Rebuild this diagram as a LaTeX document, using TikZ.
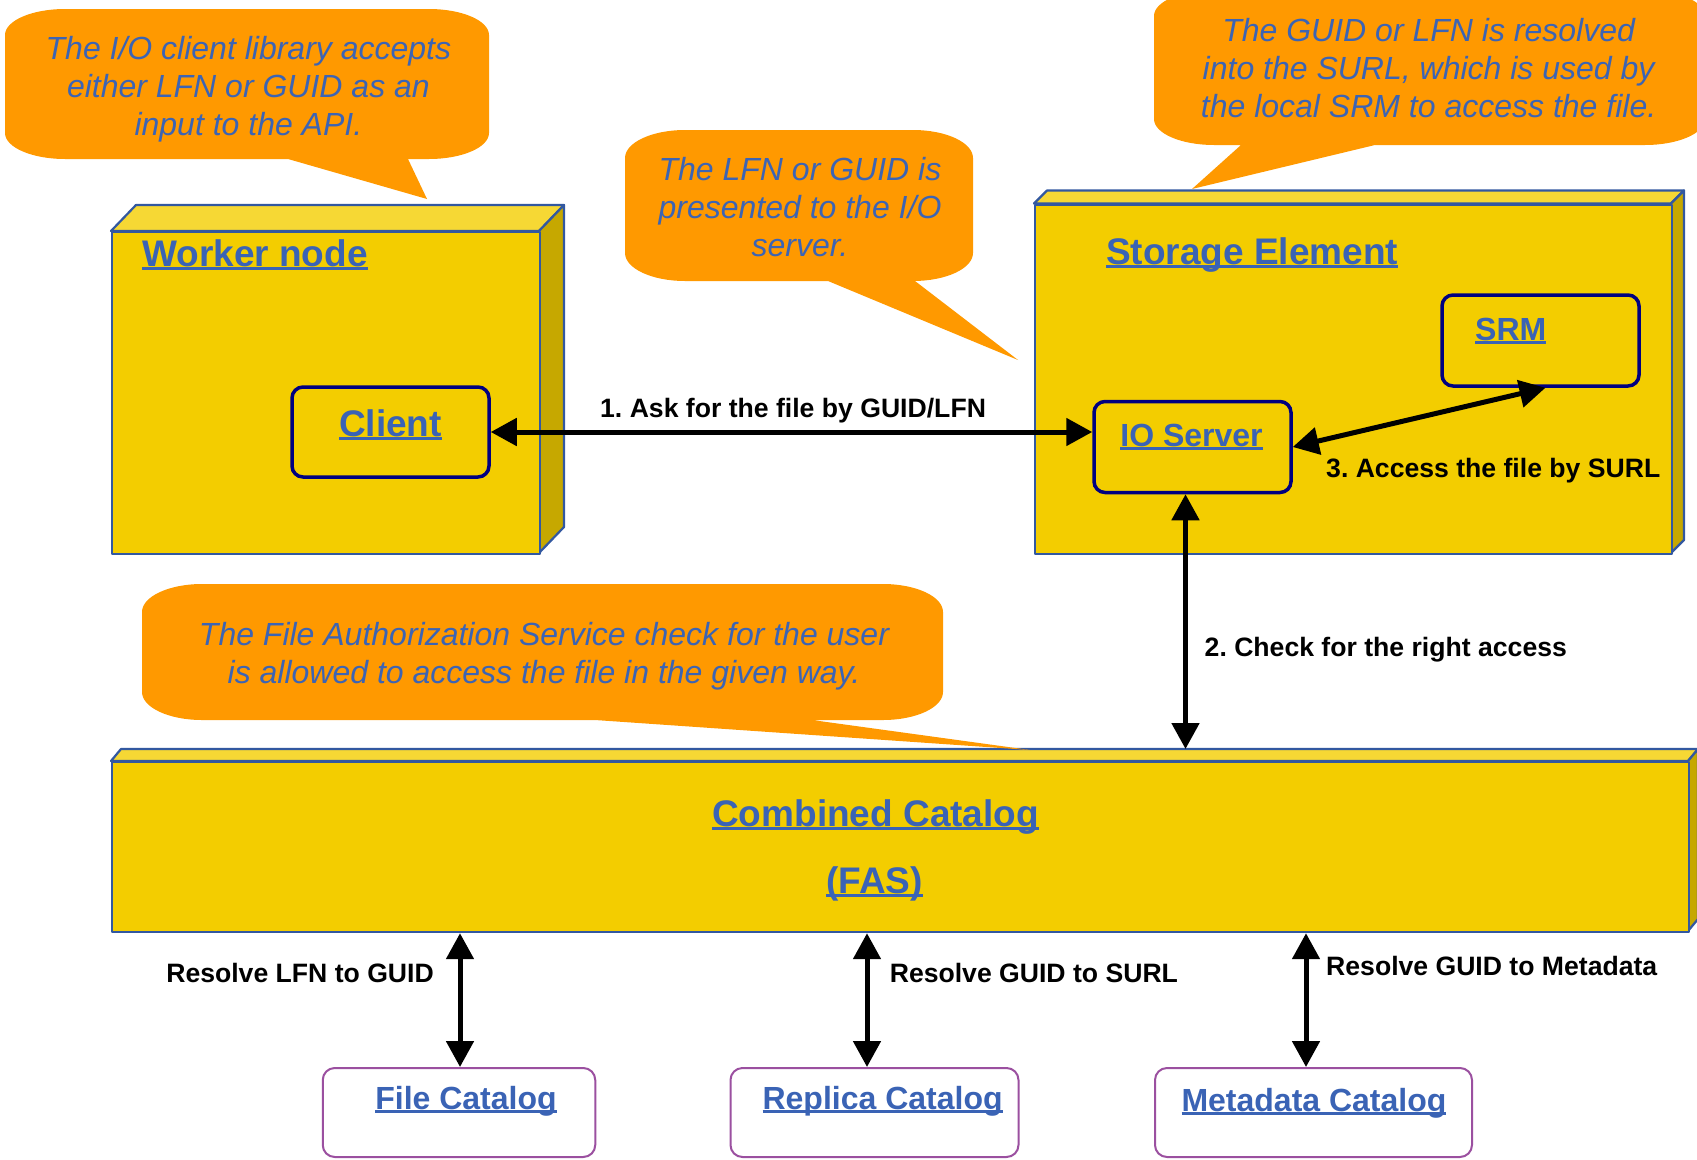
\documentclass[tikz,border=0pt]{standalone}
\usepackage{fontspec}
\setmainfont{Liberation Sans}
\usetikzlibrary{arrows.meta}

\definecolor{frontyel}{RGB}{243,205,0}
\definecolor{topyel}{RGB}{246,216,52}
\definecolor{sideyel}{RGB}{198,168,0}
\definecolor{edgeblue}{RGB}{50,88,160}
\definecolor{titleblue}{RGB}{58,99,181}
\definecolor{notebg}{RGB}{255,153,0}
\definecolor{notetext}{RGB}{60,100,180}
\definecolor{navyline}{RGB}{0,0,128}
\definecolor{catpurple}{RGB}{155,80,160}

% underlined link-style text
\newsavebox\ulinbox
\newcommand\ulin[1]{\sbox\ulinbox{#1}\rlap{\rule[-0.11em]{\wd\ulinbox}{0.075em}}\usebox\ulinbox}

% top and right faces of a box drawn in perspective
\newcommand\cuboidfaces[6]{%
  \filldraw[face, fill=topyel] (#1,#2) -- ({#1+#5},{#2-#6}) -- ({#3+#5},{#2-#6}) -- (#3,#2) -- cycle;
  \filldraw[face, fill=sideyel] (#3,#2) -- ({#3+#5},{#2-#6}) -- ({#3+#5},{#4-#6}) -- (#3,#4) -- cycle;
}

% speech bubble: x0 y0 x1 y1 rx ry, wedge base left x, wedge base right x, tip
\newcommand\bubble[9]{%
  \fill[notebg] (#1,{#2+#6}) .. controls (#1,{#2+0.448*#6}) and ({#1+0.448*#5},#2) .. ({#1+#5},#2)
    -- ({#3-#5},#2) .. controls ({#3-0.448*#5},#2) and (#3,{#2+0.448*#6}) .. (#3,{#2+#6})
    -- (#3,{#4-#6}) .. controls (#3,{#4-0.448*#6}) and ({#3-0.448*#5},#4) .. ({#3-#5},#4)
    -- (#8,#4) -- #9 -- (#7,#4)
    -- ({#1+#5},#4) .. controls ({#1+0.448*#5},#4) and (#1,{#4-0.448*#6}) .. (#1,{#4-#6}) -- cycle;
}

\tikzset{
  face/.style={draw=edgeblue, line width=2.2pt, line join=round},
  frontface/.style={face, fill=frontyel, inner sep=0pt, anchor=north west},
  inbox/.style={draw=navyline, line width=3.5pt, rounded corners=11pt, fill=frontyel, inner sep=0pt},
  catbox/.style={draw=catpurple, line width=2pt, rounded corners=12pt, fill=white, inner sep=0pt},
  title/.style={text=titleblue, font=\fontsize{37}{44}\selectfont\bfseries, inner sep=0pt},
  subtitle/.style={text=titleblue, font=\fontsize{32}{38}\selectfont\bfseries, inner sep=0pt},
  lbl/.style={font=\fontsize{26.6}{31}\selectfont\bfseries, inner sep=0pt},
  note/.style={text=notetext, font=\fontsize{32}{38}\selectfont\itshape, inner sep=0pt, align=center, anchor=north},
  link/.style={line width=5pt, {Triangle[length=26pt,width=27pt]}-{Triangle[length=26pt,width=27pt]}},
}

\begin{document}
\frenchspacing
\begin{tikzpicture}[x=1pt, y=-1pt]
\useasboundingbox (0,0) rectangle (1697,1159);
\clip (0,0) rectangle (1697,1159);

% worker node
\cuboidfaces{111}{231}{539}{553}{25}{26}
\node[frontface, minimum width=428, minimum height=322] (wn) at (111,231) {};
% storage element
\cuboidfaces{1034}{203.5}{1671}{553}{13}{13}
\node[frontface, minimum width=637, minimum height=349.5] (se) at (1034,203.5) {};
% combined catalog
\cuboidfaces{111}{761}{1688}{931}{10}{12}
\node[frontface, minimum width=1577, minimum height=170] (cat) at (111,761) {};
\coordinate (cattop) at (0,749);

% inner components
\node[inbox, minimum width=197, minimum height=90] (client) at (390.5,432) {};
\node[inbox, minimum width=197, minimum height=91] (io) at (1192.5,447) {};
\node[inbox, minimum width=197, minimum height=91] (srm) at (1540.5,340.5) {};

% catalogs
\node[catbox, minimum width=272.5, minimum height=89] (fc) at (459,1112.5) {};
\node[catbox, minimum width=288, minimum height=89] (rc) at (874.5,1112.5) {};
\node[catbox, minimum width=317, minimum height=89] (mc) at (1313.5,1112.5) {};

% speech bubbles
\bubble{5}{9}{489}{159}{60}{26}{288}{408}{(427,199)}
\bubble{625}{130}{973}{281}{60}{28}{828}{915}{(1018,360)}
\bubble{1154}{-10}{1705}{145}{60}{26}{1241}{1375}{(1192,189)}
\bubble{142}{584}{943}{720}{60}{28}{595}{812}{(1030,750)}

\node[note] (n1) at (248.4,35.7) {The I/O client library accepts\\either LFN or GUID as an\\input to the API.};
\node[note] (n2) at (800,156.7) {The LFN or GUID is\\presented to the I/O\\server.};
\node[note] (n3) at (1428.6,17.7) {The GUID or LFN is resolved\\into the SURL, which is used by\\the local SRM to access the file.};
\node[note] (n4) at (544,621.7) {The File Authorization Service check for the user\\is allowed to access the file in the given way.};

% titles
\node[title, anchor=base west] (wnt) at (142,266) {\ulin{Worker node}};
\node[title, anchor=base west] (set) at (1106,264) {\ulin{Storage Element}};
\node[title, anchor=base] (clientt) at (390.5,436) {\ulin{Client}};
\node[subtitle, anchor=base] (iot) at (1191.5,446) {\ulin{IO Server}};
\node[subtitle, anchor=base west] (srmt) at (1475,340) {\ulin{SRM}};
\node[title, anchor=base] (catt) at (875.6,826) {\ulin{Combined Catalog}};
\node[title, anchor=base] (fast) at (874.5,893) {\ulin{(FAS)}};
\node[subtitle, anchor=base] (fct) at (466,1109) {\ulin{File Catalog}};
\node[subtitle, anchor=base] (rct) at (882.6,1109) {\ulin{Replica Catalog}};
\node[subtitle, anchor=base] (mct) at (1314,1111) {\ulin{Metadata Catalog}};

% connectors
\draw[link] (client.east) -- (client.east -| io.west);
\draw[link] (io.east) -- ([xshift=5pt]srm.south);
\draw[link] ([xshift=-7pt]io.south) -- ([xshift=-7pt]io.south |- cattop);
\draw[link] ([xshift=1pt]fc.north) -- ([xshift=1pt]fc.north |- cat.south);
\draw[link] ([xshift=-7.5pt]rc.north) -- ([xshift=-7.5pt]rc.north |- cat.south);
\draw[link] ([xshift=-7.5pt]mc.north) -- ([xshift=-7.5pt]mc.north |- cat.south);

% connector labels
\node[lbl, anchor=base west] (l1) at (600,417) {1. Ask for the file by GUID/LFN};
\node[lbl, anchor=base west] (l3) at (1326,477) {3. Access the file by SURL};
\node[lbl, anchor=base west] (l2) at (1204.5,656) {2. Check for the right access};
\node[lbl, anchor=base east] (l4) at (434,982) {Resolve LFN to GUID};
\node[lbl, anchor=base west] (l5) at (889.6,982) {Resolve GUID to SURL};
\node[lbl, anchor=base west] (l6) at (1326,975) {Resolve GUID to Metadata};
\end{tikzpicture}
\end{document}
